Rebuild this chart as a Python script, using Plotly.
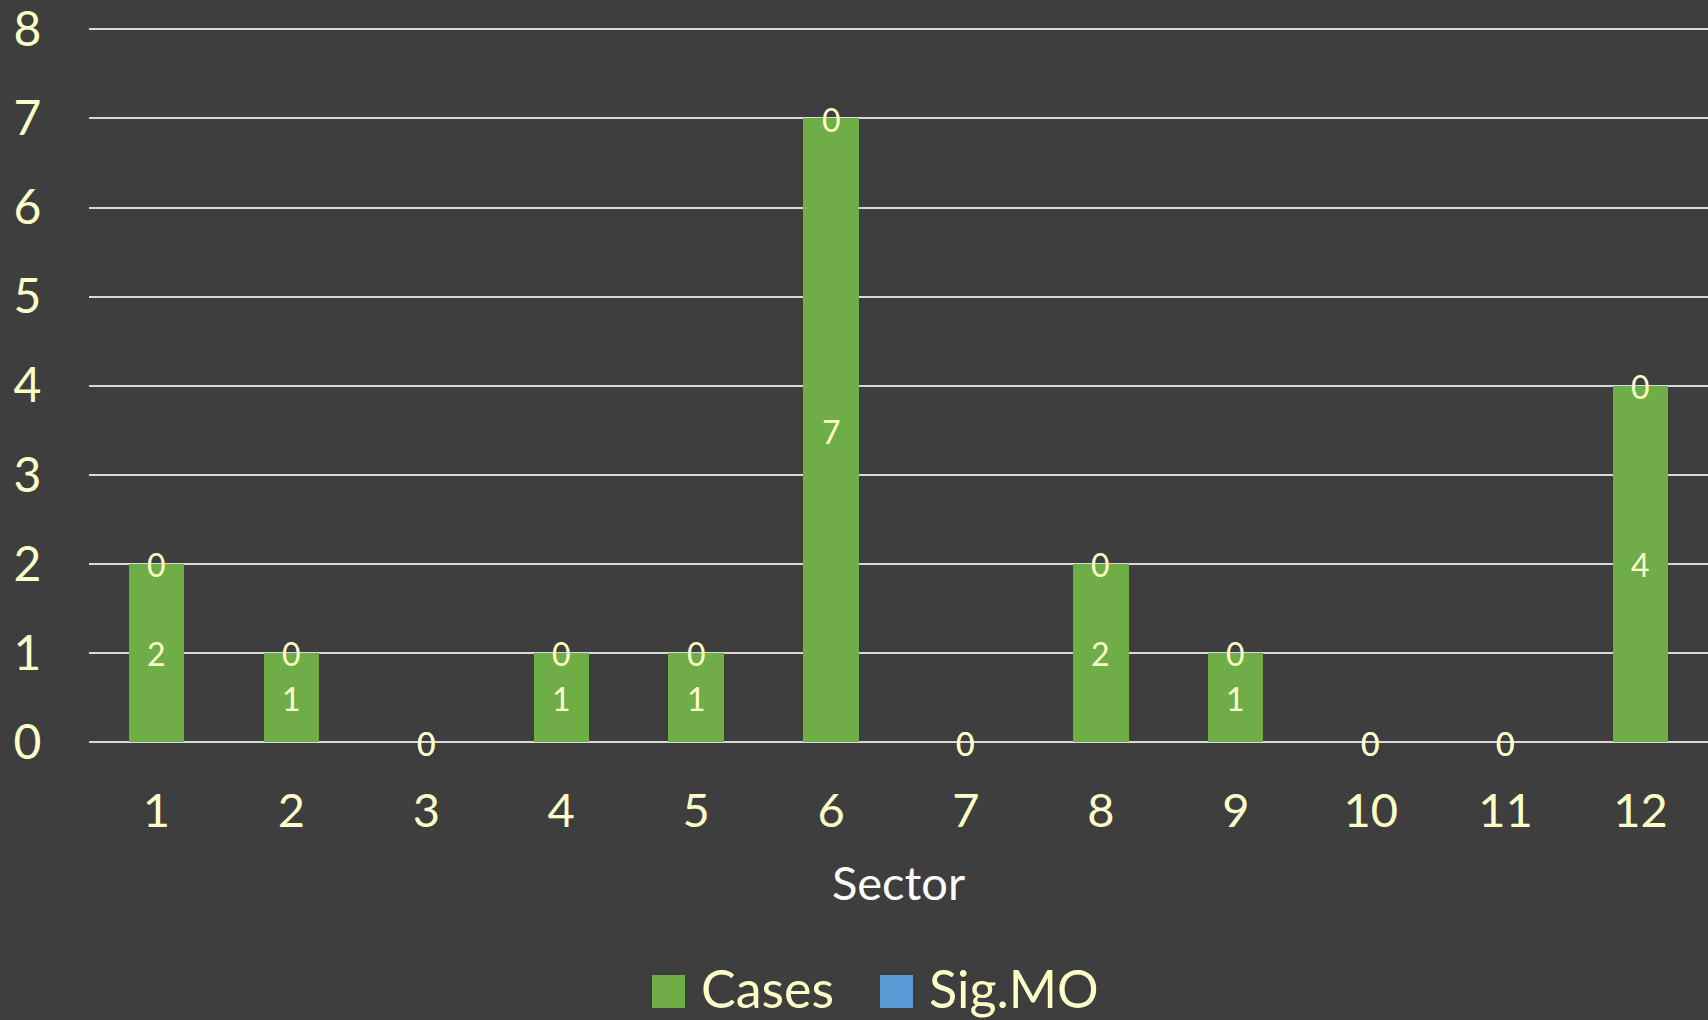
import plotly.graph_objects as go

sectors = ["1", "2", "3", "4", "5", "6", "7", "8", "9", "10", "11", "12"]
cases = [2, 1, 0, 1, 1, 7, 0, 2, 1, 0, 0, 4]
sig_mo = [0, 0, 0, 0, 0, 0, 0, 0, 0, 0, 0, 0]
y_ticks = [0, 1, 2, 3, 4, 5, 6, 7, 8]
series_names = ["Cases", "Sig.MO"]

BG = "#3e3e3e"
TXT = "#FFFFC8"
GREEN = "#6fae46"
BLUE = "#5b9bd5"
FONT = "Lato"

fig = go.Figure()
fig.add_trace(go.Bar(x=sectors, y=cases, name=series_names[0], marker=dict(color=GREEN, line=dict(width=0)),
                     width=0.41, showlegend=False, hoverinfo="skip"))
fig.add_trace(go.Bar(x=sectors, y=sig_mo, name=series_names[1], marker=dict(color=BLUE, line=dict(width=0)),
                     width=0.41, showlegend=False, hoverinfo="skip"))

# data labels (Cases centred in its bar, Sig.MO at the top of the stack)
for i, (c, s) in enumerate(zip(cases, sig_mo)):
    fig.add_annotation(x=i, y=c / 2, text=str(c), showarrow=False, xanchor="center", yanchor="middle",
                       yshift=-1, font=dict(family=FONT, size=32, color=TXT))
    fig.add_annotation(x=i, y=c + s, text=str(s), showarrow=False, xanchor="center", yanchor="middle",
                       yshift=-1, font=dict(family=FONT, size=32, color=TXT))

# custom legend (large squares like the reference)
T, B = 24, 278
PLOT_W = 1708 - 89
PLOT_H = 1020 - T - B
def px_x(px):
    return (px - 89) / PLOT_W
def px_y(py):
    return (1020 - B - py) / PLOT_H

for name, color, sq_left in [(series_names[0], GREEN, 652), (series_names[1], BLUE, 880)]:
    fig.add_shape(type="rect", xref="paper", yref="paper",
                  x0=px_x(sq_left), x1=px_x(sq_left + 33),
                  y0=px_y(1008), y1=px_y(975),
                  fillcolor=color, line=dict(width=0))
    fig.add_annotation(text=name, xref="paper", yref="paper", x=px_x(sq_left + 47),
                       y=px_y(988), xanchor="left", yanchor="middle", showarrow=False,
                       font=dict(family=FONT, size=52, color=TXT))

fig.update_layout(
    width=1708, height=1020,
    paper_bgcolor=BG, plot_bgcolor=BG,
    barmode="stack",
    showlegend=False,
    margin=dict(l=89, r=0, t=T, b=B),
    font=dict(family=FONT, color=TXT),
    xaxis=dict(type="category", range=[-0.5, 11.5], showgrid=False, zeroline=False, showline=False,
               ticks="outside", ticklen=28, tickcolor=BG,
               tickfont=dict(family=FONT, size=47, color=TXT),
               title=dict(text="Sector", font=dict(family=FONT, size=47, color="#ffffff"), standoff=30)),
    yaxis=dict(range=[0, 8.06], tickvals=y_ticks, showgrid=True, gridcolor="#d9d9d9", gridwidth=2,
               zeroline=True, zerolinecolor="#d9d9d9", zerolinewidth=2, showline=False,
               ticks="outside", ticklen=37, tickcolor=BG, ticklabeloverflow="allow",
               tickfont=dict(family=FONT, size=48, color=TXT)),
)

fig.write_html("out.html", config={"displayModeBar": False},
               post_script="document.body.style.margin='0';document.body.style.background='#3e3e3e';")
